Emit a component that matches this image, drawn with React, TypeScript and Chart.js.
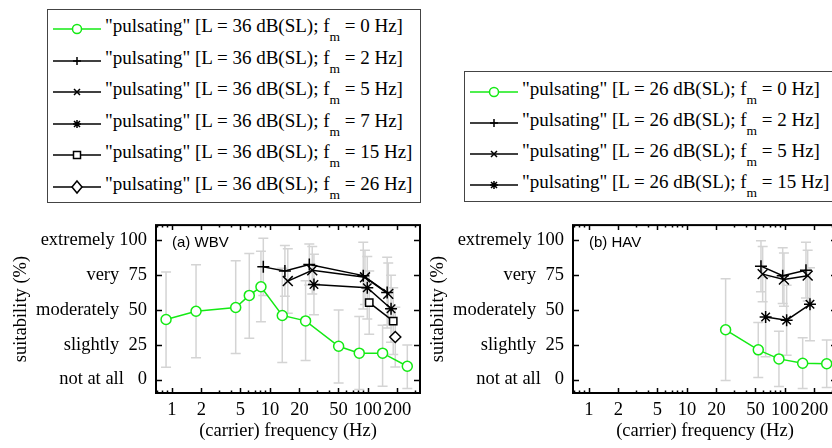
import React, { useEffect, useRef } from "react";
import { Chart, registerables } from "chart.js";
Chart.register(...registerables);

// ---------- axis definitions ----------
const xTickValues = [1, 2, 5, 10, 20, 50, 100, 200];
const xMinorValues = [0.7, 0.8, 0.9, 3, 4, 6, 7, 8, 9, 30, 40, 60, 70, 80, 90, 300];
const yTickValues = [0, 25, 50, 75, 100];
const yTickLabels = ["not at all   0", "slightly  25", "moderately  50", "very  75", "extremely 100"];

// ---------- (a) WBV data, L = 36 dB(SL) ----------
const wbv0Freq = [0.87, 1.76, 4.47, 6.15, 8.09, 13.35, 23.1, 50.2, 81.5, 141, 252];
const wbv0Mean = [43.2, 49.1, 51.8, 60.5, 66.7, 46.1, 42.2, 24.0, 19.0, 19.0, 9.6];
const wbv0Low = [8.9, 15.8, 18.7, 29.7, 41.5, 12.3, 13.7, -2.5, -7, -4.8, -6.4];
const wbv0High = [77.4, 82.6, 85.4, 90.6, 92.2, 80, 71, 50, 45.4, 39, 24.9];

const wbv2Freq = [8.55, 14.2, 25.2, 89.5, 157];
const wbv2Mean = [81.0, 78.1, 82.7, 74.7, 62.5];
const wbv2Low = [60.4, 59.9, 67.9, 50.8, 37.1];
const wbv2High = [101.6, 96.3, 97.5, 98.6, 87.9];

const wbv5Freq = [15.2, 27, 93.2, 161];
const wbv5Mean = [70.8, 78.6, 73.5, 61.6];
const wbv5Low = [47.6, 61.5, 54, 39.4];
const wbv5High = [94, 95.7, 93, 83.8];

const wbv7Freq = [28.1, 98.4, 172];
const wbv7Mean = [68.3, 66.0, 50.9];
const wbv7Low = [46.6, 43.6, 26.8];
const wbv7High = [90, 88.4, 75];

const wbv15Freq = [103, 181];
const wbv15Mean = [55.3, 42.0];
const wbv15Low = [32.6, 18];
const wbv15High = [78, 66];

const wbv26Freq = [190];
const wbv26Mean = [30.6];
const wbv26Low = [9];
const wbv26High = [52];

// ---------- (b) HAV data, L = 26 dB(SL) ----------
const hav0Freq = [24.8, 53.4, 86.8, 151.6, 266.6];
const hav0Mean = [35.8, 21.4, 14.9, 11.8, 11.4];
const hav0Low = [-0.7, 1.6, -4.9, -6.4, -5.7];
const hav0High = [72.5, 41.1, 34.7, 30.0, 28.5];

const hav2Freq = [56.9, 94.8, 163.8];
const hav2Mean = [81.5, 74.7, 78.6];
const hav2Low = [63.2, 54.7, 58.6];
const hav2High = [99.8, 94.7, 98.6];

const hav5Freq = [59.2, 97.6, 170.5];
const hav5Mean = [75.8, 71.9, 74.7];
const hav5Low = [55.9, 52.8, 56.4];
const hav5High = [95.7, 91, 93];

const hav15Freq = [63.5, 104, 180];
const hav15Mean = [45, 42.7, 54.1];
const hav15Low = [16.4, 17.6, 27.9];
const hav15High = [73.6, 67.8, 80.3];

const wbvLegendFm = ["0", "2", "5", "7", "15", "26"];
const wbvLegendMarkers = ["circle", "cross", "crossRot", "star", "rect", "rectRot"];
const havLegendFm = ["0", "2", "5", "15"];
const havLegendMarkers = ["circle", "cross", "crossRot", "star"];

const GREEN = "#14ea14";
const SERIF = "'Liberation Serif', 'Times New Roman', serif";
const SANS = "'Liberation Sans', Arial, sans-serif";
const AXIS_FONT = 18.5;

function series(f: number[], m: number[], lo: number[], hi: number[], marker: string, green: boolean) {
  const radius: Record<string, number> = { circle: 5, cross: 6, crossRot: 7, star: 6, rect: 5.2, rectRot: 5.5 };
  const color = green ? GREEN : "#000";
  return {
    data: f.map((x, i) => ({ x, y: m[i], lo: lo[i], hi: hi[i] })),
    borderColor: color,
    borderWidth: 1.5,
    pointStyle: marker,
    pointRadius: radius[marker],
    pointBorderColor: color,
    pointBackgroundColor: "#fff",
    pointBorderWidth: 1.5,
    tension: 0,
    fill: false,
  };
}

const errorBarPlugin = {
  id: "errorBars",
  beforeDatasetsDraw(chart: any) {
    const { ctx, chartArea, scales } = chart;
    const xs = scales.x, ys = scales.y;
    ctx.save();
    ctx.beginPath();
    ctx.rect(chartArea.left, chartArea.top, chartArea.right - chartArea.left, chartArea.bottom - chartArea.top);
    ctx.clip();
    ctx.strokeStyle = "#d4d4d4";
    ctx.lineWidth = 1.5;
    chart.data.datasets.forEach((ds: any) => {
      ds.data.forEach((p: any) => {
        const px = xs.getPixelForValue(p.x);
        const t = ys.getPixelForValue(p.hi);
        const b = ys.getPixelForValue(p.lo);
        ctx.beginPath();
        ctx.moveTo(px, t); ctx.lineTo(px, b);
        ctx.moveTo(px - 5, t); ctx.lineTo(px + 5, t);
        ctx.moveTo(px - 5, b); ctx.lineTo(px + 5, b);
        ctx.stroke();
      });
    });
    ctx.restore();
  },
};

const framePlugin = {
  id: "frame",
  afterDraw(chart: any, _args: any, opts: any) {
    const { ctx, chartArea, scales } = chart;
    const { left, right, top, bottom } = chartArea;
    ctx.save();
    ctx.strokeStyle = "#000";
    ctx.lineWidth = 1.5;
    ctx.beginPath();
    xTickValues.forEach((v) => {
      const px = Math.round(scales.x.getPixelForValue(v)) + 0.5;
      ctx.moveTo(px, bottom); ctx.lineTo(px, bottom - 5);
      ctx.moveTo(px, top); ctx.lineTo(px, top + 5);
    });
    xMinorValues.forEach((v) => {
      const px = Math.round(scales.x.getPixelForValue(v)) + 0.5;
      if (px <= left + 1 || px >= right - 1) return;
      ctx.moveTo(px, bottom); ctx.lineTo(px, bottom - 2.5);
      ctx.moveTo(px, top); ctx.lineTo(px, top + 2.5);
    });
    yTickValues.forEach((v) => {
      const py = Math.round(scales.y.getPixelForValue(v)) + 0.5;
      ctx.moveTo(left, py); ctx.lineTo(left + 6, py);
      ctx.moveTo(right, py); ctx.lineTo(right - 6, py);
    });
    ctx.stroke();
    ctx.lineWidth = 2;
    ctx.strokeRect(left, top, right - left, bottom - top);
    ctx.fillStyle = "#000";
    ctx.font = `15px ${SANS}`;
    ctx.textBaseline = "middle";
    ctx.textAlign = "left";
    ctx.fillText(opts.label, left + 16, top + 18);
    ctx.restore();
  },
};

function Panel({ left, datasets, label }: { left: number; datasets: any[]; label: string }) {
  const ref = useRef<HTMLCanvasElement>(null);
  useEffect(() => {
    const chart = new Chart(ref.current as HTMLCanvasElement, {
      type: "line",
      data: { datasets },
      options: {
        animation: false,
        responsive: false,
        layout: { padding: { top: 12, right: 12, left: 0, bottom: 0 } },
        plugins: {
          legend: { display: false },
          tooltip: { enabled: false },
          frame: { label },
        } as any,
        scales: {
          x: {
            type: "logarithmic",
            min: 0.687,
            max: 339.6,
            afterBuildTicks: (s: any) => { s.ticks = xTickValues.map((v) => ({ value: v })); },
            afterFit: (s: any) => { s.height = 55; },
            ticks: {
              autoSkip: false, maxRotation: 0, minRotation: 0, padding: 6,
              color: "#000", font: { family: SERIF, size: AXIS_FONT },
              callback: (v: any) => String(v),
            },
            grid: { display: false, drawTicks: false },
            border: { display: false },
            title: {
              display: true, text: "(carrier) frequency (Hz)", color: "#000",
              font: { family: SERIF, size: AXIS_FONT }, padding: { top: 0, bottom: 6 },
            },
          },
          y: {
            type: "linear",
            min: -9.6,
            max: 111,
            afterBuildTicks: (s: any) => { s.ticks = yTickValues.map((v) => ({ value: v })); },
            afterFit: (s: any) => { s.width = 156; },
            ticks: {
              padding: 9, color: "#000", font: { family: SERIF, size: AXIS_FONT },
              callback: (v: any) => yTickLabels[yTickValues.indexOf(Number(v))],
            },
            grid: { display: false, drawTicks: false },
            border: { display: false },
            title: {
              display: true, text: "suitability (%)", color: "#000",
              font: { family: SERIF, size: AXIS_FONT }, padding: { top: 10, bottom: 0 },
            },
          },
        },
      } as any,
      plugins: [errorBarPlugin, framePlugin],
    });
    return () => chart.destroy();
  }, []);
  return (
    <canvas
      ref={ref}
      width={432}
      height={243}
      style={{ position: "absolute", left, top: 205, width: 432, height: 243 }}
    />
  );
}

function MarkerSvg({ marker, green }: { marker: string; green: boolean }) {
  const c = green ? GREEN : "#000";
  const cx = 24, cy = 10;
  let shape: React.ReactNode = null;
  if (marker === "circle") shape = <circle cx={cx} cy={cy} r={4.5} fill="#fff" stroke={c} strokeWidth={1.5} />;
  else if (marker === "cross") shape = <path d={`M${cx - 4} ${cy}H${cx + 4}M${cx} ${cy - 4}V${cy + 4}`} stroke={c} strokeWidth={1.5} />;
  else if (marker === "crossRot") shape = <path d={`M${cx - 3} ${cy - 3}L${cx + 3} ${cy + 3}M${cx - 3} ${cy + 3}L${cx + 3} ${cy - 3}`} stroke={c} strokeWidth={1.5} />;
  else if (marker === "star") shape = <path d={`M${cx - 4} ${cy}H${cx + 4}M${cx} ${cy - 4}V${cy + 4}M${cx - 3} ${cy - 3}L${cx + 3} ${cy + 3}M${cx - 3} ${cy + 3}L${cx + 3} ${cy - 3}`} stroke={c} strokeWidth={1.5} />;
  else if (marker === "rect") shape = <rect x={cx - 3.5} y={cy - 3.5} width={7} height={7} fill="#fff" stroke={c} strokeWidth={1.5} />;
  else if (marker === "rectRot") shape = <path d={`M${cx} ${cy - 6}L${cx + 5} ${cy}L${cx} ${cy + 6}L${cx - 5} ${cy}Z`} fill="#fff" stroke={c} strokeWidth={1.5} />;
  return (
    <svg width={48} height={20} style={{ position: "absolute", left: 5, top: 3 }}>
      <line x1={0} y1={cy} x2={48} y2={cy} stroke={c} strokeWidth={1.5} />
      {shape}
    </svg>
  );
}

function Legend({ left, top, width, height, level, fms, markers, firstRow, spacing }: any) {
  return (
    <div
      style={{
        position: "absolute", left, top, width, height, boxSizing: "border-box",
        border: "1.5px solid #444", background: "#fff",
      }}
    >
      {fms.map((fm: string, i: number) => (
        <div key={i} style={{ position: "absolute", left: 0, top: firstRow + i * spacing - 10, height: 20, width: width }}>
          <MarkerSvg marker={markers[i]} green={i === 0} />
          <span
            style={{
              position: "absolute", left: 57, top: 0, whiteSpace: "nowrap",
              fontFamily: SERIF, fontSize: 19, lineHeight: "20px", color: "#000",
            }}
          >
            "pulsating" [L = {level} dB(SL); f
            <span style={{ fontSize: 13.5, position: "relative", top: 9 }}>m</span> = {fm} Hz]
          </span>
        </div>
      ))}
    </div>
  );
}

export default function App() {
  const wbvSets = [
    series(wbv0Freq, wbv0Mean, wbv0Low, wbv0High, "circle", true),
    series(wbv2Freq, wbv2Mean, wbv2Low, wbv2High, "cross", false),
    series(wbv5Freq, wbv5Mean, wbv5Low, wbv5High, "crossRot", false),
    series(wbv7Freq, wbv7Mean, wbv7Low, wbv7High, "star", false),
    series(wbv15Freq, wbv15Mean, wbv15Low, wbv15High, "rect", false),
    series(wbv26Freq, wbv26Mean, wbv26Low, wbv26High, "rectRot", false),
  ];
  const havSets = [
    series(hav0Freq, hav0Mean, hav0Low, hav0High, "circle", true),
    series(hav2Freq, hav2Mean, hav2Low, hav2High, "cross", false),
    series(hav5Freq, hav5Mean, hav5Low, hav5High, "crossRot", false),
    series(hav15Freq, hav15Mean, hav15Low, hav15High, "star", false),
  ];
  return (
    <div style={{ position: "fixed", left: 0, top: 0, width: 832, height: 448, overflow: "hidden", background: "#fff" }}>
      <Legend left={47} top={9} width={374} height={194} level={36} fms={wbvLegendFm} markers={wbvLegendMarkers} firstRow={16} spacing={31.5} />
      <Legend left={464} top={71} width={380} height={131} level={26} fms={havLegendFm} markers={havLegendMarkers} firstRow={17} spacing={31.1} />
      <Panel left={0} datasets={wbvSets} label="(a) WBV" />
      <Panel left={417} datasets={havSets} label="(b) HAV" />
    </div>
  );
}
